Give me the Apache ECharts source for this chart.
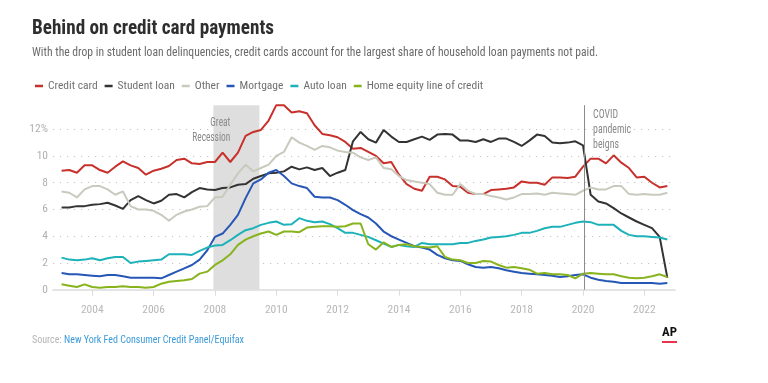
<!DOCTYPE html>
<html>
<head>
<meta charset="utf-8">
<script src="https://cdn.jsdelivr.net/npm/echarts@6/dist/echarts.min.js"></script>
<style>
  html, body { margin: 0; padding: 0; background: #fff; }
  #chart { width: 768px; height: 383px; }
</style>
</head>
<body>
<div id="chart"></div>
<script>
// ---------- DATA (quarterly, 2003 Q1 – 2022 Q4, % of balance 90+ days delinquent) ----------
const startYear = 2003;
const endYear = 2022;
const yearTicks = [2004, 2006, 2008, 2010, 2012, 2014, 2016, 2018, 2020, 2022];

const creditCard = [8.9,8.95,8.75,9.3,9.3,8.95,8.75,9.2,9.6,9.3,
  9.1,8.6,8.9,9.05,9.25,9.7,9.8,9.45,9.4,9.55,
  9.55,10.25,9.55,10.25,11.5,11.8,11.95,12.65,13.8,13.8,
  13.25,13.35,13.2,12.3,11.65,11.55,11.4,11.05,10.55,10.6,
  10.3,10.0,9.45,9.55,8.6,7.9,7.55,7.4,8.45,8.45,
  8.25,7.75,7.7,7.25,7.15,7.15,7.45,7.5,7.55,7.65,
  8.1,8.0,8.0,7.85,8.4,8.4,8.35,8.45,9.2,9.8,
  9.8,9.45,10.05,9.5,9.1,8.4,8.45,8.0,7.65,7.75];

const studentLoan = [6.15,6.15,6.25,6.25,6.35,6.4,6.5,6.3,6.05,6.7,
  7.0,6.7,6.45,6.65,7.1,7.15,6.9,7.3,7.6,7.5,
  7.45,7.6,7.65,7.85,7.9,8.3,8.5,8.7,8.75,8.85,
  9.2,9.0,9.15,8.95,9.1,8.5,8.75,8.95,11.1,11.8,
  11.25,11.0,11.95,11.45,11.05,11.05,11.25,11.45,11.2,11.6,
  11.65,11.6,11.15,11.15,11.05,11.25,11.05,11.3,11.3,11.05,
  10.75,11.15,11.6,11.5,11.0,10.95,11.0,11.1,10.8,7.1,
  6.6,6.45,6.1,5.7,5.4,5.1,4.85,4.6,3.95,0.9];

const other = [7.35,7.25,6.9,7.5,7.75,7.75,7.5,7.1,7.35,6.25,
  6.0,6.0,5.9,5.6,5.15,5.6,5.85,6.0,6.2,6.25,
  6.9,6.95,7.85,8.7,9.35,8.85,9.1,9.35,10.0,10.3,
  11.4,11.0,10.75,10.45,10.75,10.65,10.4,10.3,10.25,9.9,
  9.7,9.9,9.1,9.0,8.5,8.2,8.1,8.0,7.9,7.25,
  7.1,7.1,7.9,7.4,7.15,7.15,7.0,6.9,6.75,6.9,
  7.15,7.15,7.2,7.1,7.25,7.2,7.15,7.1,7.4,7.65,
  7.5,7.5,7.75,7.75,7.15,7.1,7.15,7.1,7.1,7.25];

const mortgage = [1.25,1.15,1.15,1.1,1.05,1.0,1.1,1.1,1.0,0.9,
  0.9,0.9,0.9,0.85,1.1,1.35,1.6,1.85,2.25,2.95,
  3.95,4.2,4.85,5.6,6.85,7.95,8.25,8.75,8.95,8.5,
  7.95,7.75,7.6,6.95,6.9,6.9,6.7,6.35,5.95,5.65,
  5.4,4.95,4.35,4.0,3.75,3.5,3.25,3.15,3.0,2.6,
  2.35,2.2,2.15,1.9,1.7,1.65,1.7,1.6,1.45,1.35,
  1.25,1.2,1.15,1.1,1.05,0.95,1.0,1.1,1.15,0.9,
  0.75,0.65,0.6,0.5,0.5,0.5,0.5,0.5,0.45,0.5];

const autoLoan = [2.4,2.25,2.2,2.25,2.35,2.2,2.35,2.45,2.45,2.0,
  2.1,2.15,2.2,2.25,2.65,2.65,2.65,2.6,2.9,3.15,
  3.3,3.35,3.7,4.1,4.45,4.6,4.85,5.0,5.1,4.85,
  4.9,5.35,5.15,5.05,5.1,4.9,4.6,4.25,4.25,4.1,
  3.95,3.7,3.45,3.2,3.35,3.25,3.2,3.5,3.4,3.4,
  3.4,3.4,3.5,3.5,3.65,3.75,3.9,3.95,4.0,4.1,
  4.25,4.25,4.4,4.6,4.7,4.7,4.85,5.0,5.1,5.05,
  4.85,4.85,4.85,4.4,4.1,4.0,4.0,3.95,3.9,3.75];

const homeEquity = [0.4,0.3,0.2,0.4,0.2,0.15,0.2,0.2,0.25,0.2,
  0.2,0.15,0.2,0.45,0.6,0.65,0.7,0.8,1.2,1.35,
  1.85,2.2,2.65,3.35,3.75,4.0,4.2,4.35,4.1,4.35,
  4.35,4.3,4.65,4.7,4.75,4.75,4.7,4.75,4.95,4.95,
  3.4,3.0,3.55,3.2,3.35,3.4,3.25,3.2,3.15,3.25,
  2.45,2.25,2.2,2.0,2.0,2.15,2.1,1.85,1.65,1.7,
  1.6,1.5,1.2,1.25,1.15,1.15,1.1,0.85,1.2,1.25,
  1.2,1.15,1.15,1.0,0.9,0.85,0.9,1.0,1.15,0.95];

const seriesNames = ['Credit card', 'Student loan', 'Other', 'Mortgage', 'Auto loan', 'Home equity line of credit'];
const seriesData = [creditCard, studentLoan, other, mortgage, autoLoan, homeEquity];
const seriesColors = ['#c8312b', '#333333', '#c9c9be', '#2757b6', '#1db2b9', '#87b31d'];

const recession = [2007.95, 2009.45];
const covidStart = 2020.03;

// quarter positions (start of each quarter, in years)
const quarters = [];
for (let y = startYear; y <= endYear; y++) {
  for (let q = 0; q < 4; q++) quarters.push(y + q / 4);
}

// ---------- FONT DETECTION ----------
const mctx = document.createElement('canvas').getContext('2d');
function available(f) {
  const s = 'abcdefghijklmnopqrstuvwxyzABCDEFGHIJ0123456789';
  let res = false;
  ['monospace', 'serif'].forEach(function (b) {
    mctx.font = '40px ' + b;
    const a = mctx.measureText(s).width;
    mctx.font = "40px '" + f + "', " + b;
    const c = mctx.measureText(s).width;
    if (a !== c) res = true;
  });
  return res;
}
const condCandidates = ['Roboto Condensed', 'Liberation Sans Narrow', 'DejaVu Sans Condensed', 'Noto Sans Condensed', 'Open Sans Condensed'];
const cond = condCandidates.find(available);
const FF = cond ? "'" + cond + "', Roboto, sans-serif" : 'Roboto, sans-serif';
const smallSize = cond ? 11.5 : 10;
const legendSize = cond ? 11.5 : 9.5;

function scaleFor(text, font, target) {
  mctx.font = font;
  const w = mctx.measureText(text).width;
  return w > 0 ? target / w : 1;
}

// ---------- CHART ----------
const chart = echarts.init(document.getElementById('chart'), null, { renderer: 'canvas' });

const series = seriesNames.map(function (name, k) {
  return {
    name: name,
    type: 'line',
    data: quarters.map(function (t, i) { return [t, seriesData[k][i]]; }),
    showSymbol: false,
    symbol: 'none',
    lineStyle: { width: 2, color: seriesColors[k] },
    itemStyle: { color: seriesColors[k] },
    z: 3,
    silent: true
  };
});

series.unshift({
  name: 'annotations',
  type: 'line',
  data: [],
  z: 1,
  silent: true,
  markArea: {
    silent: true,
    itemStyle: { color: '#dedede' },
    label: { show: false },
    data: [[{ coord: [recession[0], 0] }, { coord: [recession[1], 13.8] }]]
  },
  markLine: {
    silent: true,
    symbol: ['none', 'none'],
    label: { show: false },
    lineStyle: { color: '#8c8c8c', width: 1, type: 'solid' },
    data: [[{ coord: [covidStart, 0] }, { coord: [covidStart, 13.8] }]]
  }
});

chart.setOption({
  animation: false,
  backgroundColor: '#ffffff',
  legend: {
    data: seriesNames,
    left: 30,
    top: 75,
    icon: 'rect',
    itemWidth: 8,
    itemHeight: 2.5,
    itemGap: 7,
    textStyle: { color: '#707070', fontSize: legendSize, fontFamily: FF },
    selectedMode: false
  },
  grid: { left: 53, right: 93, top: 102.5, bottom: 93.3, containLabel: false },
  xAxis: {
    type: 'value',
    min: 2002.72,
    max: 2023.0,
    axisLine: { show: true, lineStyle: { color: '#dcdcdc', width: 1.5 } },
    axisTick: { show: true, length: 6, lineStyle: { color: '#dcdcdc', width: 1 }, customValues: yearTicks },
    axisLabel: {
      color: '#b8b8b8', fontSize: smallSize, fontFamily: FF, margin: 14,
      customValues: yearTicks,
      formatter: function (v) { return String(Math.round(v)); }
    },
    splitLine: { show: false }
  },
  yAxis: {
    type: 'value',
    min: 0,
    max: 14,
    interval: 2,
    axisLine: { show: false },
    axisTick: { show: false },
    axisLabel: {
      color: '#b0b0b0', fontSize: smallSize, fontFamily: FF, margin: 5,
      formatter: function (v) {
        if (v === 14) return '';
        return v === 12 ? '12%' : String(v);
      }
    },
    splitLine: {
      show: true,
      showMinLine: false,
      showMaxLine: false,
      lineStyle: { color: '#c4c4c4', width: 1, type: [1.2, 5.8] }
    }
  },
  series: series
});

// ---------- TEXT / ANNOTATIONS ----------
const titleFont = 'bold 21px ' + FF;
const subFont = '12px ' + FF;
const noteFont = '13px ' + FF;
const srcFont = '11px ' + FF;
const titleText = 'Behind on credit card payments';
const subText = 'With the drop in student loan delinquencies, credit cards account for the largest share of household loan payments not paid.';
const srcA = 'Source: ';
const srcB = 'New York Fed Consumer Credit Panel/Equifax';

const recPt = chart.convertToPixel({ gridIndex: 0 }, [2008.5, 11.9]);
const covPt = chart.convertToPixel({ gridIndex: 0 }, [2020.33, 11.95]);

const recScale = scaleFor('Recession', noteFont, 38);
const covScale = scaleFor('pandemic', noteFont, 38);

chart.setOption({
  graphic: [
    {
      type: 'text', x: 32, y: 29, scaleX: scaleFor(titleText, titleFont, 242),
      style: { text: titleText, font: titleFont, fill: '#2e2e2e', textAlign: 'left', textVerticalAlign: 'middle' }
    },
    {
      type: 'text', x: 32, y: 53, scaleX: scaleFor(subText, subFont, 566),
      style: { text: subText, font: subFont, fill: '#6a6a6a', textAlign: 'left', textVerticalAlign: 'middle' }
    },
    {
      type: 'text', x: recPt[0], y: recPt[1], scaleX: recScale, z: 10,
      style: { text: 'Great\nRecession', font: noteFont, fill: '#8a8a8a', textAlign: 'right', textVerticalAlign: 'middle', lineHeight: 15 }
    },
    {
      type: 'text', x: covPt[0], y: covPt[1], scaleX: covScale, z: 10,
      style: { text: 'COVID\npandemic\nbeigns', font: noteFont, fill: '#8a8a8a', textAlign: 'left', textVerticalAlign: 'middle', lineHeight: 15 }
    },
    {
      type: 'text', x: 32, y: 340, scaleX: scaleFor(srcA + srcB, srcFont, 212),
      style: {
        text: '{a|' + srcA + '}{b|' + srcB + '}',
        font: srcFont,
        textAlign: 'left', textVerticalAlign: 'middle',
        rich: {
          a: { fill: '#b5b5b5', font: srcFont },
          b: { fill: '#3b9ad9', font: srcFont }
        }
      }
    },
    {
      type: 'text', x: 669.5, y: 333, scaleX: scaleFor('AP', 'bold 13px ' + FF, 15),
      style: { text: 'AP', font: 'bold 13px ' + FF, fill: '#111111', textAlign: 'center', textVerticalAlign: 'middle' }
    },
    {
      type: 'rect', shape: { x: 662, y: 341, width: 15, height: 2 },
      style: { fill: '#e8344e' }
    }
  ]
});
</script>
</body>
</html>
